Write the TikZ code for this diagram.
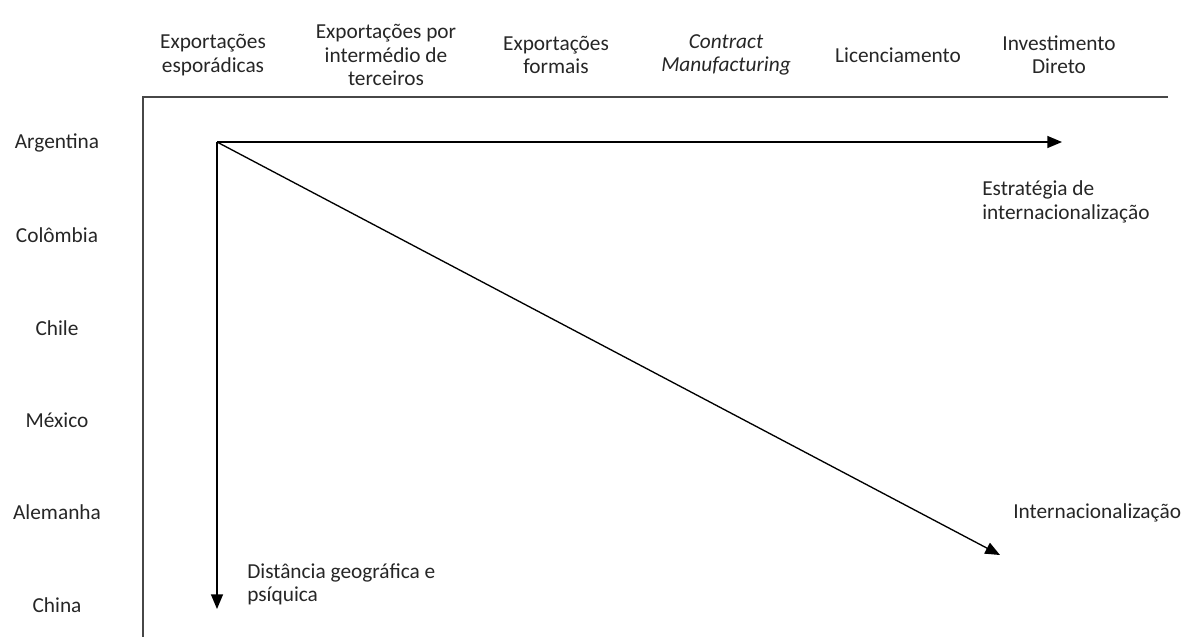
\documentclass[tikz,border=0pt]{standalone}
\usepackage{fontspec}
\setmainfont{Carlito}
\usetikzlibrary{arrows.meta}

\begin{document}
\begin{tikzpicture}[x=0.75pt,y=-0.75pt,
  lbl/.style={inner sep=0pt, align=center, text=black!85,
    font=\fontsize{16}{17.5}\selectfont},
  note/.style={lbl, align=left, anchor=west},
  frame/.style={line width=1.3pt, draw=black!72},
  axis/.style={-{Triangle[length=11pt,width=9pt]}, line width=1pt}]
\useasboundingbox (0,0) rectangle (1189,637);

% Frame
\draw[frame] (1168,97) -- (143,97) -- (143,637);

% Strategies (top)
\node[lbl] (s1) at (213,55) {Exportações\\esporádicas};
\node[lbl] (s2) at (386,55) {Exportações por\\intermédio de\\terceiros};
\node[lbl] (s3) at (556,55) {Exportações\\formais};
\node[lbl] (s4) at (726,55) {\itshape Contract\\\itshape Manufacturing};
\node[lbl] (s5) at (898,55) {Licenciamento};
\node[lbl] (s6) at (1059,55) {Investimento\\Direto};

% Countries (left)
\node[lbl] (c1) at (57,143) {Argentina};
\node[lbl] (c2) at (57,235) {Colômbia};
\node[lbl] (c3) at (57,328) {Chile};
\node[lbl] (c4) at (57,420) {México};
\node[lbl] (c5) at (57,512) {Alemanha};
\node[lbl] (c6) at (57,605) {China};

% Arrows
\coordinate (o) at (217,142);
\coordinate (eh) at (1062,142);
\coordinate (ev) at (217,609);
\coordinate (ed) at (1000,555);
\draw[axis] (o) -- (eh);
\draw[axis] (o) -- (ev);
\draw[axis] (o) -- (ed);

% Arrow labels
\node[note] (lh) at (982,202) {Estratégia de\\internacionalização};
\node[note] (lv) at (247,584) {Distância geográfica e\\psíquica};
\node[note] (ld) at (1013,513) {Internacionalização};
\end{tikzpicture}
\end{document}
